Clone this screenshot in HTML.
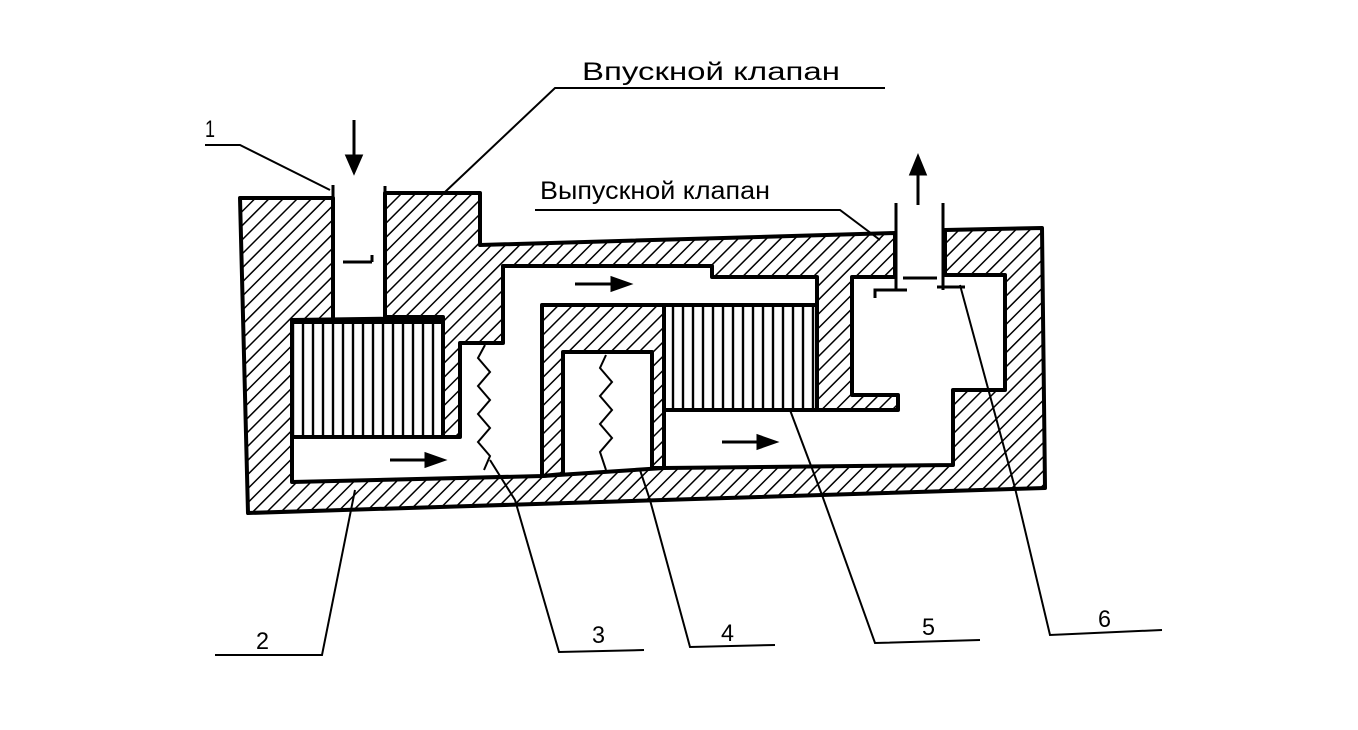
<!DOCTYPE html>
<html><head><meta charset="utf-8"><style>
html,body{margin:0;padding:0;background:#fff;}
svg{display:block}
text{font-family:"Liberation Sans","DejaVu Sans",sans-serif;fill:#000}
</style></head><body>
<svg width="1358" height="730" viewBox="0 0 1358 730" xmlns="http://www.w3.org/2000/svg">
<defs>
<pattern id="h" patternUnits="userSpaceOnUse" width="10" height="10" patternTransform="rotate(45)">
<rect width="10" height="10" fill="#fff"/>
<line x1="0" y1="0" x2="0" y2="10" stroke="#000" stroke-width="3"/>
</pattern>
<pattern id="v" patternUnits="userSpaceOnUse" width="10" height="10">
<rect width="10" height="10" fill="#fff"/>
<line x1="3" y1="0" x2="3" y2="10" stroke="#000" stroke-width="2.4"/>
</pattern>
</defs>
<g stroke="#000" stroke-width="4" stroke-linejoin="round">
<polygon fill="url(#h)" points="240,198 333,198 333,320 292,320 292,482 543,476 664,468 953,465 953,390 1005,390 1005,275 945,275 945,230 1042,228 1045,488 248,513"/>
<polygon fill="url(#h)" points="542,476 542,305 664,305 664,468 652,468 652,352 563,352 563,474"/>
<polygon fill="url(#h)" points="385,193 480,193 480,245 895,233 895,277 852,277 852,395 898,395 898,410 817,410 817,277 712,277 712,266 503,266 503,343 460,343 460,437 443,437 443,317 385,317"/>
<rect x="292" y="322" width="151" height="115" fill="url(#v)"/>
<rect x="664" y="305" width="153" height="105" fill="url(#v)"/>
<line x1="292" y1="320" x2="443" y2="318"/>
</g>
<g stroke="#000" stroke-width="3" fill="none">
<line x1="333" y1="198" x2="333" y2="185"/>
<line x1="385" y1="193" x2="385" y2="186"/>
<line x1="343" y1="262" x2="372" y2="262"/>
<line x1="372" y1="255" x2="372" y2="262"/>
<line x1="896" y1="203" x2="896" y2="290"/>
<line x1="943" y1="203" x2="943" y2="290"/>
<polyline points="875,298 875,290 907,290"/>
<line x1="903" y1="278" x2="937" y2="278"/>
<polyline points="937,287 965,287"/>
<polyline stroke-width="2" points="485,345 478,358 490,372 478,386 490,400 478,414 490,428 478,442 490,456 484,470"/>
<polyline stroke-width="2" points="606,355 600,368 612,382 600,396 612,410 600,424 612,438 600,452 606,470"/>
</g>
<g stroke="#000" stroke-width="3" fill="#000">
<line x1="354" y1="120" x2="354" y2="160"/><polygon points="347,156 361,156 354,172"/>
<line x1="918" y1="205" x2="918" y2="170"/><polygon points="911,174 925,174 918,157"/>
<line x1="390" y1="460" x2="428" y2="460"/><polygon points="426,454 426,466 443,460"/>
<line x1="575" y1="284" x2="614" y2="284"/><polygon points="612,278 612,290 629,284"/>
<line x1="722" y1="442" x2="760" y2="442"/><polygon points="758,436 758,448 775,442"/>
</g>
<g stroke="#000" stroke-width="2" fill="none">
<polyline points="205,145 240,145 330,190"/>
<polyline points="885,88 555,88 445,192"/>
<polyline points="535,210 840,210 880,240"/>
<polyline points="215,655 322,655 355,490"/>
<polyline points="644,650 559,652 515,500 490,460"/>
<polyline points="775,645 690,647 650,500 640,470"/>
<polyline points="980,640 875,643 822,495 790,410"/>
<polyline points="1162,630 1050,635 1015,488 960,285"/>
</g>
<g font-size="24">
<text x="205" y="137" textLength="10" lengthAdjust="spacingAndGlyphs">1</text>
<text x="582" y="80" textLength="258" lengthAdjust="spacingAndGlyphs" font-size="25">Впускной клапан</text>
<text x="540" y="199" textLength="230" lengthAdjust="spacingAndGlyphs" font-size="25">Выпускной клапан</text>
<text x="256" y="649" textLength="13" lengthAdjust="spacingAndGlyphs">2</text>
<text x="592" y="643" textLength="13" lengthAdjust="spacingAndGlyphs">3</text>
<text x="721" y="641" textLength="13" lengthAdjust="spacingAndGlyphs">4</text>
<text x="922" y="635" textLength="13" lengthAdjust="spacingAndGlyphs">5</text>
<text x="1098" y="627" textLength="13" lengthAdjust="spacingAndGlyphs">6</text>
</g>
</svg>
</body></html>
